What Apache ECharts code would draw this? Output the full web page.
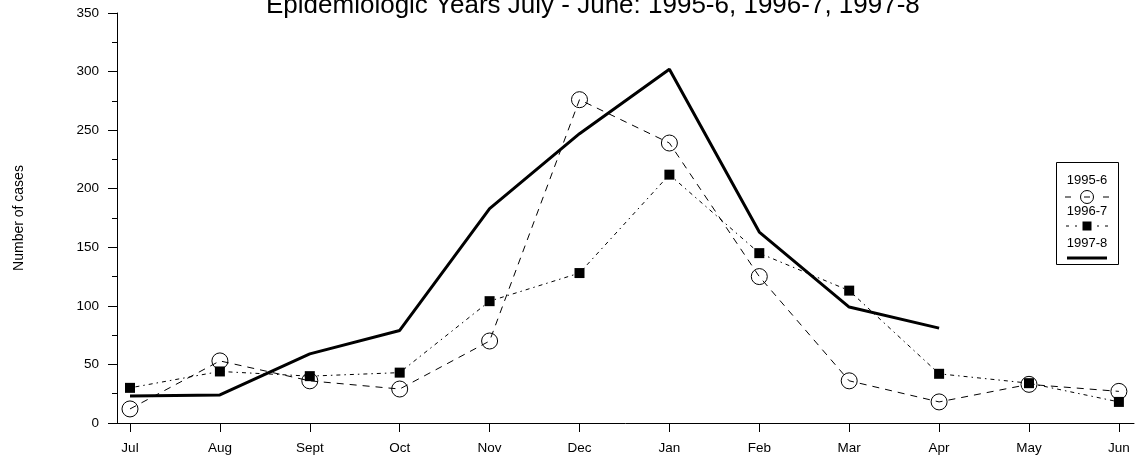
<!DOCTYPE html>
<html>
<head>
<meta charset="utf-8">
<script src="https://cdn.jsdelivr.net/npm/echarts@6/dist/echarts.min.js"></script>
<style>
  html, body { margin: 0; padding: 0; background: #fff; }
  #chart { width: 1135px; height: 456px; }
</style>
</head>
<body>
<div id="chart"></div>
<script>
// months of the epidemiologic year, July - June
var months = ['Jul', 'Aug', 'Sept', 'Oct', 'Nov', 'Dec', 'Jan', 'Feb', 'Mar', 'Apr', 'May', 'Jun'];

// cases per month
var cases_1995_6 = [12, 53, 36, 29, 70, 276, 239, 125, 36, 18, 33, 27];
var cases_1996_7 = [30, 44, 40, 43, 104, 128, 212, 145, 113, 42, 34, 18];
var cases_1997_8 = [23, 24, 59, 79, 183, 247, 302, 163, 99, 81];

var yTicks = [0, 50, 100, 150, 200, 250, 300, 350];

var FONT = 'Liberation Sans, Arial, Helvetica, sans-serif';

function toPairs(values) {
  return values.map(function (v, i) { return [i, v]; });
}

var monthIdx = months.map(function (m, i) { return i; });

var chart = echarts.init(document.getElementById('chart'), null, { renderer: 'canvas' });

var option = {
  animation: false,
  backgroundColor: '#ffffff',
  textStyle: { fontFamily: FONT, color: '#000' },
  title: {
    text: 'Epidemiologic Years July - June: 1995-6, 1996-7, 1997-8',
    left: 261,
    top: -12,
    textStyle: { fontFamily: FONT, fontSize: 26, fontWeight: 'normal', color: '#000' }
  },
  grid: {
    left: 117,
    width: 1017,
    top: 13,
    height: 410,
    containLabel: false
  },
  xAxis: {
    type: 'value',
    min: -0.1446,
    max: 11.168,
    splitLine: { show: false },
    axisLine: { show: true, onZero: false, lineStyle: { color: '#000', width: 1 } },
    axisTick: { show: true, customValues: monthIdx, length: 9, lineStyle: { color: '#000' } },
    axisLabel: {
      customValues: monthIdx,
      margin: 18,
      fontSize: 13.5,
      color: '#000',
      fontFamily: FONT,
      formatter: function (v) { return months[Math.round(v)]; }
    }
  },
  yAxis: {
    type: 'value',
    min: 0,
    max: 350,
    interval: 50,
    name: 'Number of cases',
    nameLocation: 'middle',
    nameRotate: 90,
    nameGap: 91,
    nameTextStyle: { fontFamily: FONT, fontSize: 14, color: '#000' },
    splitLine: { show: false },
    axisLine: { show: true, onZero: false, lineStyle: { color: '#000', width: 1 } },
    axisTick: { show: true, length: 9, lineStyle: { color: '#000' } },
    minorTick: { show: true, splitNumber: 2, length: 5, lineStyle: { color: '#000' } },
    axisLabel: {
      margin: 18,
      fontSize: 13.5,
      color: '#000',
      fontFamily: FONT,
      customValues: yTicks
    }
  },
  series: [
    {
      name: '1995-6',
      type: 'line',
      data: toPairs(cases_1995_6),
      symbol: 'circle',
      symbolSize: 16,
      showAllSymbol: true,
      lineStyle: { color: '#000', width: 1, type: [7, 6] },
      itemStyle: { color: 'rgba(0,0,0,0)', borderColor: '#000', borderWidth: 1 },
      emphasis: { disabled: true },
      z: 2
    },
    {
      name: '1996-7',
      type: 'line',
      data: toPairs(cases_1996_7),
      symbol: 'rect',
      symbolSize: 10,
      showAllSymbol: true,
      lineStyle: { color: '#000', width: 1, type: [1.5, 4, 4, 4] },
      itemStyle: { color: '#000', borderWidth: 0 },
      emphasis: { disabled: true },
      z: 3
    },
    {
      name: '1997-8',
      type: 'line',
      data: toPairs(cases_1997_8),
      showSymbol: false,
      lineStyle: { color: '#000', width: 3 },
      emphasis: { disabled: true },
      z: 4
    }
  ],
  // legend box drawn by hand, R style: label above its symbol
  graphic: [
    { type: 'rect', shape: { x: 1056.5, y: 162.5, width: 62, height: 102 },
      style: { fill: '#fff', stroke: '#000', lineWidth: 1 }, z: 10 },
    { type: 'text', x: 1087, y: 180, z: 11,
      style: { text: '1995-6', font: '13px ' + FONT, fill: '#000', align: 'center', verticalAlign: 'middle' } },
    { type: 'line', shape: { x1: 1065, y1: 197, x2: 1071, y2: 197 }, style: { stroke: '#000', lineWidth: 1 }, z: 11 },
    { type: 'line', shape: { x1: 1084, y1: 197, x2: 1090, y2: 197 }, style: { stroke: '#000', lineWidth: 1 }, z: 11 },
    { type: 'line', shape: { x1: 1103, y1: 197, x2: 1109, y2: 197 }, style: { stroke: '#000', lineWidth: 1 }, z: 11 },
    { type: 'circle', shape: { cx: 1087, cy: 197, r: 6.5 }, style: { fill: 'none', stroke: '#000', lineWidth: 1 }, z: 11 },
    { type: 'text', x: 1087, y: 211, z: 11,
      style: { text: '1996-7', font: '13px ' + FONT, fill: '#000', align: 'center', verticalAlign: 'middle' } },
    { type: 'line', shape: { x1: 1066, y1: 226, x2: 1069, y2: 226 }, style: { stroke: '#000', lineWidth: 1 }, z: 11 },
    { type: 'line', shape: { x1: 1075, y1: 226, x2: 1077, y2: 226 }, style: { stroke: '#000', lineWidth: 1 }, z: 11 },
    { type: 'rect', shape: { x: 1082.5, y: 221.5, width: 9, height: 9 }, style: { fill: '#000' }, z: 11 },
    { type: 'line', shape: { x1: 1097, y1: 226, x2: 1099, y2: 226 }, style: { stroke: '#000', lineWidth: 1 }, z: 11 },
    { type: 'line', shape: { x1: 1105, y1: 226, x2: 1108, y2: 226 }, style: { stroke: '#000', lineWidth: 1 }, z: 11 },
    { type: 'text', x: 1087, y: 243, z: 11,
      style: { text: '1997-8', font: '13px ' + FONT, fill: '#000', align: 'center', verticalAlign: 'middle' } },
    { type: 'line', shape: { x1: 1067, y1: 258, x2: 1107, y2: 258 }, style: { stroke: '#000', lineWidth: 3 }, z: 11 }
  ]
};

chart.setOption(option);
</script>
</body>
</html>
